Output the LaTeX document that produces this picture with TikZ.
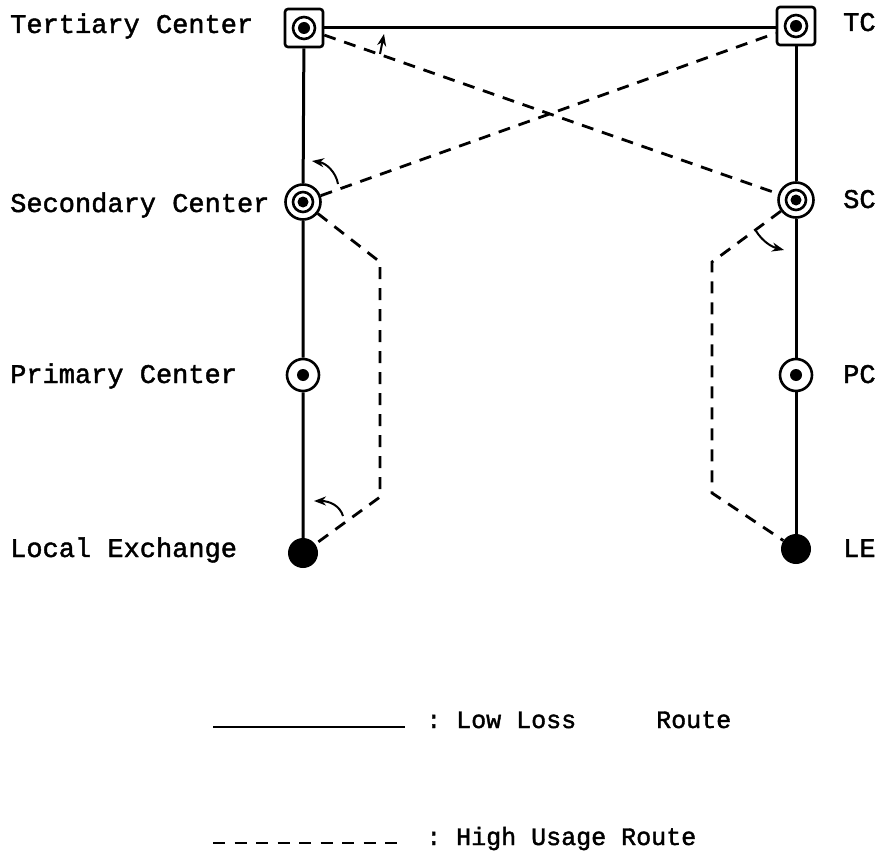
\documentclass[tikz,border=0pt]{standalone}
\usepackage{fontspec}
\setmonofont[FakeBold=1.6]{Liberation Mono}
\usetikzlibrary{arrows.meta}
\begin{document}
\begin{tikzpicture}[x=1pt,y=-1pt,
  lowloss/.style={line width=3pt},
  highuse/.style={line width=2.8pt, dash pattern=on 12pt off 9pt},
  tertiary/.style={draw, rectangle, rounded corners=3pt, line width=2.6pt,
    minimum size=38pt, inner sep=0pt,
    path picture={
      \draw[line width=2.6pt] (path picture bounding box.center) circle[radius=11pt];
      \fill (path picture bounding box.center) circle[radius=6pt];}},
  secondary/.style={draw, circle, line width=2.6pt, minimum size=35pt, inner sep=0pt,
    path picture={
      \draw[line width=2.6pt] (path picture bounding box.center) circle[radius=10pt];
      \fill (path picture bounding box.center) circle[radius=5.5pt];}},
  primary/.style={draw, circle, line width=2.6pt, minimum size=32pt, inner sep=0pt,
    path picture={
      \fill (path picture bounding box.center) circle[radius=6pt];}},
  localex/.style={fill, circle, minimum size=30pt, inner sep=0pt},
  lbl/.style={anchor=base west, inner sep=0pt,
    font=\ttfamily\fontsize{27}{30}\selectfont},
  legendtxt/.style={anchor=base west, inner sep=0pt,
    font=\ttfamily\fontsize{25}{28}\selectfont},
  tip/.style={line width=2pt, -{Stealth[length=12pt,width=9pt]}}
]
\useasboundingbox (0,0) rectangle (881,856);

% exchanges of the two hierarchies
\node[tertiary]  (TCL) at (304,28)  {};
\node[tertiary]  (TCR) at (796,26)  {};
\node[secondary] (SCL) at (303,202) {};
\node[secondary] (SCR) at (796,200) {};
\node[primary]   (PCL) at (303,375) {};
\node[primary]   (PCR) at (796,375) {};
\node[localex]   (LEL) at (303,553) {};
\node[localex]   (LER) at (796,549) {};

% labels
\node[lbl] (tl) at (10,33)  {Tertiary Center};
\node[lbl] (sl) at (10,212) {Secondary Center};
\node[lbl] (pl) at (10,383) {Primary Center};
\node[lbl] (el) at (10,557) {Local Exchange};
\node[lbl] (tr) at (843,31)  {TC};
\node[lbl] (sr) at (843,208) {SC};
\node[lbl] (pr) at (843,383) {PC};
\node[lbl] (er) at (843,557) {LE};

% low loss routes
\draw[lowloss] (TCL) -- (SCL) -- (PCL) -- (LEL);
\draw[lowloss] (TCR) -- (SCR) -- (PCR) -- (LER);
\draw[lowloss] (TCL.east) -- (TCR.west |- TCL.east);

% high usage routes
\draw[highuse] (TCL) -- (SCR);
\draw[highuse] (SCL) -- (TCR);
\coordinate (l1) at (380,262);
\coordinate (l2) at (380,497);
\draw[highuse] (SCL) -- (l1) -- (l2) -- (LEL);
\coordinate (r1) at (712,262);
\coordinate (r2) at (712,493);
\draw[highuse] (SCR) -- (r1) -- (r2) -- (LER);

% overflow arrows
\coordinate (a1s) at (380,54);
\coordinate (a1e) at (384,34);
\draw[tip] (a1s) -- (a1e);
\coordinate (a2s) at (338,184);
\coordinate (a2e) at (312,161);
\draw[tip] (a2s) .. controls (336,172) and (326,163) .. (a2e);
\coordinate (a3s) at (343,516);
\coordinate (a3e) at (314,501);
\draw[tip] (a3s) .. controls (340,506) and (330,501) .. (a3e);
\coordinate (a4s) at (756,231);
\coordinate (a4e) at (784,250);
\draw[tip] (a4s) .. controls (763,242) and (772,247) .. (a4e);

% legend
\coordinate (ls1) at (213,727);
\coordinate (ls2) at (405,727);
\draw[line width=2.4pt] (ls1) -- (ls2);
\node[legendtxt] (lt1) at (426,728) {: Low Loss\hspace{80pt}Route};
\coordinate (ld1) at (213,843);
\coordinate (ld2) at (405,843);
\draw[line width=2.4pt, dash pattern=on 12pt off 9.5pt] (ld1) -- (ld2);
\node[legendtxt] (lt2) at (426,845) {: High Usage Route};
\end{tikzpicture}
\end{document}
